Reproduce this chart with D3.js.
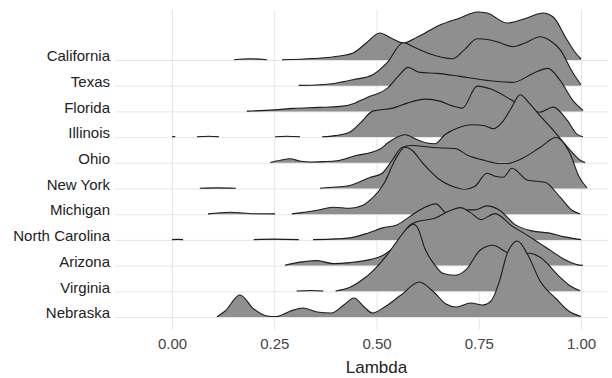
<!DOCTYPE html>
<html>
<head>
<meta charset="utf-8">
<script src="https://cdn.jsdelivr.net/npm/d3@7"></script>
<style>
  body { margin: 0; background: #fff; }
  svg { display: block; font-family: "Liberation Sans", Arial, sans-serif; }
</style>
</head>
<body>
<div id="chart"></div>
<script>
// states, top to bottom
const states = ['California', 'Texas', 'Florida', 'Illinois', 'Ohio', 'New York',
  'Michigan', 'North Carolina', 'Arizona', 'Virginia', 'Nebraska'];
const xTicks = [0, 0.25, 0.5, 0.75, 1];

// density ridges: [lambda, density]; broken pieces = separate segments
const california = [
  [[0.152, 0.03], [0.19, 0.12], [0.232, 0.03]],
  [[0.269, 0.03], [0.345, 0.15], [0.41, 0.4], [0.443, 0.7], [0.475, 1.7], [0.508, 2.7], [0.54, 2.1],
   [0.565, 1.7], [0.60, 2.3], [0.655, 3.5], [0.704, 4.2], [0.746, 4.8], [0.77, 4.7], [0.819, 3.7],
   [0.868, 4.2], [0.907, 4.7], [0.932, 4.3], [0.966, 2.0], [0.985, 0.8], [1.0, 0.1]]
];
const texas = [
  [[0.31, 0.03], [0.36, 0.1], [0.40, 0.25], [0.443, 0.6], [0.491, 1.1], [0.526, 2.3], [0.565, 4.3],
   [0.595, 3.8], [0.623, 3.3], [0.687, 2.7], [0.715, 3.6], [0.746, 4.7], [0.775, 4.6], [0.802, 4.3],
   [0.834, 3.9], [0.865, 4.3], [0.90, 4.9], [0.925, 4.5], [0.949, 3.6], [0.98, 1.3], [1.0, 0.1]]
];
const florida = [
  [[0.183, 0.03], [0.25, 0.15], [0.296, 0.3], [0.36, 0.4], [0.411, 0.5], [0.445, 0.8], [0.477, 1.4],
   [0.526, 2.3], [0.555, 3.6], [0.577, 4.4], [0.606, 3.9], [0.648, 3.8], [0.704, 3.5], [0.77, 3.1],
   [0.834, 2.9], [0.883, 3.8], [0.919, 4.3], [0.949, 3.1], [0.98, 1.1], [1.005, 0.1]]
];
const illinois = [
  [[0.0, 0.03], [0.004, 0.05], [0.008, 0.03]],
  [[0.061, 0.03], [0.09, 0.08], [0.115, 0.03]],
  [[0.252, 0.03], [0.28, 0.08], [0.313, 0.03]],
  [[0.367, 0.03], [0.40, 0.15], [0.435, 0.5], [0.46, 1.4], [0.491, 2.6], [0.54, 2.9], [0.575, 3.4],
   [0.62, 3.8], [0.655, 3.6], [0.687, 3.1], [0.71, 2.9], [0.746, 5.1], [0.78, 4.8], [0.83, 3.7],
   [0.87, 2.7], [0.90, 2.5], [0.932, 3.0], [0.966, 1.7], [0.99, 0.3], [1.005, 0.03]]
];
const ohio = [
  [[0.24, 0.03], [0.265, 0.25], [0.288, 0.4], [0.315, 0.15], [0.337, 0.08], [0.37, 0.12], [0.403, 0.2],
   [0.452, 0.75], [0.484, 1.0], [0.51, 1.4], [0.528, 2.0], [0.57, 2.8], [0.60, 2.3], [0.62, 2.0],
   [0.643, 1.9], [0.667, 2.8], [0.70, 3.5], [0.733, 3.8], [0.765, 3.7], [0.785, 3.4], [0.81, 4.2],
   [0.83, 5.5], [0.851, 6.8], [0.875, 5.9], [0.90, 4.7], [0.925, 3.6], [0.95, 2.4], [0.975, 1.2],
   [1.0, 0.2], [1.01, 0.03]]
];
const newYork = [
  [[0.068, 0.03], [0.11, 0.06], [0.156, 0.03]],
  [[0.362, 0.03], [0.40, 0.15], [0.435, 0.3], [0.484, 1.1], [0.513, 1.5], [0.538, 2.8], [0.562, 4.1],
   [0.585, 4.3], [0.636, 4.1], [0.692, 4.0], [0.724, 3.3], [0.765, 2.8], [0.80, 2.5], [0.819, 2.5],
   [0.851, 2.9], [0.90, 4.1], [0.939, 5.1], [0.973, 3.5], [0.995, 1.2], [1.015, 0.05]]
];
const michigan = [
  [[0.088, 0.03], [0.142, 0.2], [0.20, 0.05], [0.252, 0.03]],
  [[0.293, 0.03], [0.355, 0.4], [0.394, 0.7], [0.435, 0.6], [0.467, 0.9], [0.484, 1.4], [0.52, 3.2],
   [0.545, 5.4], [0.57, 6.7], [0.587, 6.4], [0.611, 5.2], [0.65, 3.6], [0.692, 2.7], [0.716, 2.5],
   [0.741, 2.8], [0.77, 4.1], [0.79, 3.8], [0.81, 3.7], [0.831, 4.6], [0.87, 3.4], [0.912, 3.2],
   [0.949, 1.7], [0.978, 0.4], [0.998, 0.03]]
];
const northCarolina = [
  [[0.0, 0.03], [0.013, 0.05], [0.027, 0.03]],
  [[0.2, 0.03], [0.25, 0.08], [0.31, 0.03]],
  [[0.345, 0.03], [0.40, 0.1], [0.435, 0.2], [0.48, 0.7], [0.515, 1.2], [0.55, 1.5], [0.58, 2.3],
   [0.615, 3.2], [0.645, 3.6], [0.67, 2.7], [0.69, 2.5], [0.71, 3.0], [0.74, 3.0], [0.77, 3.4],
   [0.80, 3.0], [0.84, 1.5], [0.88, 0.9], [0.92, 0.7], [0.96, 0.3], [1.0, 0.03]]
];
const arizona = [
  [[0.276, 0.03], [0.313, 0.35], [0.355, 0.5], [0.394, 0.2], [0.435, 0.3], [0.484, 0.6], [0.515, 1.0],
   [0.55, 2.2], [0.58, 4.0], [0.60, 4.4], [0.64, 4.7], [0.68, 5.5], [0.705, 5.8], [0.73, 5.3],
   [0.755, 4.6], [0.79, 5.2], [0.83, 4.0], [0.87, 3.0], [0.90, 2.2], [0.93, 1.4], [0.96, 0.6],
   [0.99, 0.1], [1.005, 0.03]]
];
const virginia = [
  [[0.305, 0.03], [0.34, 0.08], [0.37, 0.03]],
  [[0.40, 0.03], [0.435, 0.4], [0.47, 1.3], [0.49, 2.0], [0.525, 3.6], [0.55, 5.0], [0.575, 6.3],
   [0.59, 6.7], [0.60, 6.4], [0.618, 4.3], [0.643, 2.6], [0.662, 1.8], [0.69, 1.6], [0.72, 2.2],
   [0.753, 4.1], [0.785, 4.6], [0.819, 3.9], [0.85, 3.7], [0.875, 3.8], [0.90, 3.4], [0.949, 1.4],
   [0.975, 0.5], [0.998, 0.05]]
];
const nebraska = [
  [[0.11, 0.03], [0.13, 0.6], [0.166, 2.2], [0.20, 0.8], [0.232, 0.1], [0.255, 0.05], [0.29, 0.6],
   [0.32, 0.9], [0.355, 0.5], [0.39, 0.4], [0.42, 1.2], [0.445, 1.9], [0.47, 1.0], [0.49, 0.4],
   [0.52, 1.0], [0.56, 2.2], [0.605, 3.5], [0.64, 2.5], [0.67, 1.3], [0.695, 1.0], [0.73, 1.4],
   [0.76, 1.2], [0.78, 1.6], [0.80, 3.5], [0.82, 6.4], [0.845, 7.6], [0.87, 6.2], [0.90, 3.6],
   [0.94, 1.8], [0.97, 0.6], [1.0, 0.05]]
];

const ridges = [california, texas, florida, illinois, ohio, newYork, michigan,
  northCarolina, arizona, virginia, nebraska];

const W = 612, H = 378;
const panel = { left: 115, right: 608, top: 10, bottom: 330 };

const svg = d3.select('#chart').append('svg')
  .attr('width', W)
  .attr('height', H);

const x = d3.scaleLinear().domain([0, 1]).range([172, 581]);
const y = d3.scalePoint().domain(states).range([60, 317]);
const dens = d3.scaleLinear().domain([0, 1]).range([0, 10]);

// vertical grid
svg.append('g')
  .attr('transform', `translate(0,${panel.bottom})`)
  .call(d3.axisBottom(x).tickValues(xTicks).tickSize(-(panel.bottom - panel.top)).tickFormat(''))
  .call(g => g.select('.domain').remove())
  .selectAll('line')
  .attr('stroke', '#e6e6e6')
  .attr('stroke-width', 1);

// horizontal grid + state labels
const yAxis = svg.append('g')
  .attr('transform', `translate(${panel.left},0)`)
  .call(d3.axisLeft(y).tickSize(-(panel.right - panel.left)).tickPadding(5))
  .call(g => g.select('.domain').remove());
yAxis.selectAll('line')
  .attr('stroke', '#e6e6e6')
  .attr('stroke-width', 1);
yAxis.selectAll('text')
  .attr('dy', '0.05em')
  .style('font-size', '15px')
  .style('fill', '#222');

// ridges, top row first so lower rows sit on top
const area = d3.area()
  .curve(d3.curveMonotoneX)
  .x(d => x(d[0]));
const line = d3.line()
  .curve(d3.curveMonotoneX)
  .x(d => x(d[0]));

states.forEach((s, i) => {
  const base = y(s);
  const g = svg.append('g').attr('class', 'ridge');
  ridges[i].forEach(seg => {
    g.append('path')
      .datum(seg)
      .attr('fill', '#8f8f8f')
      .attr('stroke', 'none')
      .attr('d', area.y0(base).y1(d => base - dens(d[1])));
    g.append('path')
      .datum(seg)
      .attr('fill', 'none')
      .attr('stroke', '#1c1c1c')
      .attr('stroke-width', 1.1)
      .attr('d', line.y(d => base - dens(d[1])));
  });
});

// x axis labels
const xAxis = svg.append('g')
  .attr('transform', `translate(0,338)`)
  .call(d3.axisBottom(x).tickValues(xTicks).tickSize(0).tickPadding(0).tickFormat(d3.format('.2f')))
  .call(g => g.select('.domain').remove());
xAxis.selectAll('text')
  .style('font-size', '15px')
  .style('fill', '#444');

svg.append('text')
  .attr('x', x(0.5))
  .attr('y', 373)
  .attr('text-anchor', 'middle')
  .style('font-size', '17px')
  .style('fill', '#222')
  .text('Lambda');
</script>
</body>
</html>
